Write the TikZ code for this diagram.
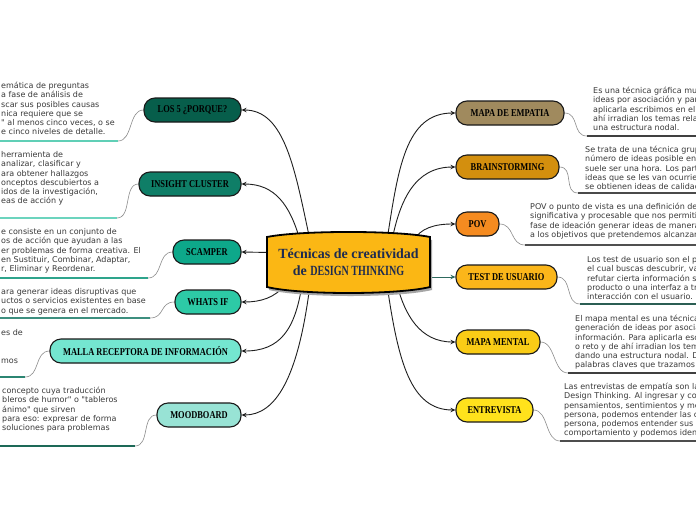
\documentclass[tikz,border=0pt]{standalone}
\usepackage{fontspec}
\usepackage{graphicx}
\setmainfont{DejaVu Sans}
\newfontfamily\descfont{DejaVu Sans}
\newfontfamily\lblfont[FakeStretch=0.8]{Liberation Serif}
\newfontfamily\ctrfont{Liberation Serif}
\usetikzlibrary{arrows.meta}
\pgfdeclarelayer{bg}
\pgfdeclarelayer{lines}
\pgfsetlayers{bg,lines,main}
\definecolor{cLos}{HTML}{075E4B}
\definecolor{cIns}{HTML}{0F7E67}
\definecolor{cSca}{HTML}{0DA88A}
\definecolor{cWha}{HTML}{2DCAA6}
\definecolor{cMal}{HTML}{74E6D0}
\definecolor{cMoo}{HTML}{98E3D5}
\definecolor{cEmp}{HTML}{A08A5E}
\definecolor{cBra}{HTML}{D38F0E}
\definecolor{cPov}{HTML}{F58B20}
\definecolor{cTes}{HTML}{FBB61A}
\definecolor{cMen}{HTML}{FACC16}
\definecolor{cEnt}{HTML}{FFE21C}
\definecolor{cCen}{HTML}{FBB714}
\definecolor{cNavy}{HTML}{1E2B50}
\definecolor{cTxt}{HTML}{3A3A3A}
\definecolor{cTeal}{HTML}{2E6A5E}
\definecolor{uLos}{HTML}{60CFB6}
\definecolor{uIns}{HTML}{6CD4BE}
\definecolor{uSca}{HTML}{2EA48C}
\definecolor{uWha}{HTML}{3D8F7F}
\definecolor{uMal}{HTML}{2B8572}
\definecolor{uMoo}{HTML}{1D6957}
\definecolor{uEmp}{HTML}{404040}
\definecolor{uBra}{HTML}{4A4A4A}
\definecolor{uPov}{HTML}{505050}
\definecolor{uTes}{HTML}{2B5E53}
\definecolor{uMen}{HTML}{3F3F3F}
\definecolor{uEnt}{HTML}{4D4D4D}
\begin{document}
\begin{tikzpicture}[x=1pt,y=-1pt,
  lbl/.style={rounded corners=11pt, draw=black!90, line width=1.1pt,
    minimum height=24pt, inner sep=0pt, text=black,
    font=\lblfont\bfseries\fontsize{10.5}{12}\selectfont},
  desc/.style={anchor=north west, inner sep=0pt, align=left, text=cTxt,
    font=\descfont\fontsize{8}{9.3}\selectfont},
  conn/.style={line width=0.9pt, draw=black!88, -{Stealth[length=5pt,width=4.5pt]}},
  dconn/.style={line width=0.6pt, draw=black!45},
  uline/.style={line width=2pt}
]
\useasboundingbox (0,0) rectangle (696,520);
\begin{pgfonlayer}{bg}
\fill[white] (0,0) rectangle (696,520);
\end{pgfonlayer}

% central topic
\fill[black!35] (269,240) .. controls (302,233.3) and (399,233.3) .. (432,240) -- (432,290) .. controls (399,298) and (302,298) .. (269,290) -- cycle;
\filldraw[fill=cCen, draw=black, line width=1.8pt] (267,237) .. controls (300,230.3) and (397,230.3) .. (430,237) -- (430,287) .. controls (397,295) and (300,295) .. (267,287) -- cycle;
\node[minimum width=163pt, minimum height=50pt, inner sep=0pt, align=center, text=cNavy,
  font=\ctrfont\bfseries\fontsize{14}{17}\selectfont] (c) at (348.5,262.5)
  {Técnicas de creatividad\\de \scalebox{0.72}[1]{DESIGN THINKING}};

% left topics
\node[lbl, fill=cLos, minimum width=97pt]  (los5)    at (192.5,110) {LOS 5 ¿PORQUE?};
\node[lbl, fill=cIns, minimum width=102pt] (insight) at (190,184)   {INSIGHT CLUSTER};
\node[lbl, fill=cSca, minimum width=68pt]  (scamper) at (207,252)   {SCAMPER};
\node[lbl, fill=cWha, minimum width=66pt]  (whatsif) at (208,302)   {WHATS IF};
\node[lbl, fill=cMal, minimum width=191pt] (malla)   at (145.5,351) {MALLA RECEPTORA DE INFORMACIÓN};
\node[lbl, fill=cMoo, minimum width=84pt]  (mood)    at (199,415)   {MOODBOARD};
% right topics
\node[lbl, fill=cEmp, minimum width=108pt] (empatia) at (510,113)   {MAPA DE EMPATIA};
\node[lbl, fill=cBra, minimum width=103pt] (brain)   at (507.5,167) {BRAINSTORMING};
\node[lbl, fill=cPov, minimum width=43pt]  (pov)     at (477.5,224) {POV};
\node[lbl, fill=cTes, minimum width=101pt] (test)    at (506.5,277) {TEST DE USUARIO};
\node[lbl, fill=cMen, minimum width=84pt]  (mental)  at (498,342)   {MAPA MENTAL};
\node[lbl, fill=cEnt, minimum width=77pt]  (entre)   at (494.5,410) {ENTREVISTA};

% connector start points on the central topic
\coordinate (s-los5)    at ([xshift=-38.5pt,yshift=-3pt]c.north);
\coordinate (s-insight) at ([xshift=-48.5pt,yshift=-3pt]c.north);
\coordinate (s-scamper) at ([xshift=4pt,yshift=10pt]c.west);
\coordinate (s-whatsif) at ([xshift=-63.5pt,yshift=3pt]c.south);
\coordinate (s-malla)   at ([xshift=-46.5pt,yshift=3pt]c.south);
\coordinate (s-mood)    at ([xshift=-38.5pt,yshift=3pt]c.south);
\coordinate (s-empatia) at ([xshift=38.5pt,yshift=-3pt]c.north);
\coordinate (s-brain)   at ([xshift=43.5pt,yshift=-3pt]c.north);
\coordinate (s-pov)     at ([xshift=64.5pt,yshift=-4pt]c.north);
\coordinate (s-test)    at ([xshift=-4pt,yshift=-14.5pt]c.east);
\coordinate (s-mental)  at ([xshift=48.5pt,yshift=3pt]c.south);
\coordinate (s-entre)   at ([xshift=38.5pt,yshift=3pt]c.south);

% underline end points
\coordinate (u-los5)    at (118,141);
\coordinate (u-insight) at (117,218);
\coordinate (u-scamper) at (148,278);
\coordinate (u-whatsif) at (150,318);
\coordinate (u-malla)   at (25,377);
\coordinate (u-mood)    at (135,446);
\coordinate (u-empatia) at (587,136);
\coordinate (u-brain)   at (578,193);
\coordinate (u-pov)     at (525,245);
\coordinate (u-test)    at (580,304);
\coordinate (u-mental)  at (568,373);
\coordinate (u-entre)   at (560,441);

\begin{pgfonlayer}{lines}
\draw[conn] (s-los5) .. controls (295,170) and (285,110) .. (los5.east);
\draw[conn] (s-insight) .. controls (290,205) and (275,184) .. (insight.east);
\draw[conn] (s-scamper) -- (scamper.east);
\draw[conn] (s-whatsif) .. controls (275,298) and (260,302) .. (whatsif.east);
\draw[conn] (s-malla) .. controls (295,330) and (280,351) .. (malla.east);
\draw[conn] (s-mood) .. controls (298,380) and (275,415) .. (mood.east);
\draw[conn] (s-empatia) .. controls (398,170) and (405,113) .. (empatia.west);
\draw[conn] (s-brain) .. controls (400,200) and (415,167) .. (brain.west);
\draw[conn] (s-pov) .. controls (420,228) and (435,224) .. (pov.west);
\draw[conn, draw=cTeal] (s-test) -- (test.west);
\draw[conn] (s-mental) .. controls (405,315) and (420,342) .. (mental.west);
\draw[conn] (s-entre) .. controls (398,360) and (410,410) .. (entre.west);

\draw[dconn] (los5.west) .. controls +(-15,0) and +(15,0) .. (u-los5);
\draw[dconn] (insight.west) .. controls +(-15,0) and +(15,0) .. (u-insight);
\draw[dconn] (scamper.west) .. controls +(-15,0) and +(15,0) .. (u-scamper);
\draw[dconn] (whatsif.west) .. controls +(-15,0) and +(15,0) .. (u-whatsif);
\draw[dconn] (malla.west) .. controls +(-15,0) and +(15,0) .. (u-malla);
\draw[dconn] (mood.west) .. controls +(-15,0) and +(15,0) .. (u-mood);
\draw[dconn] (empatia.east) .. controls +(15,0) and +(-15,0) .. (u-empatia);
\draw[dconn] (brain.east) .. controls +(15,0) and +(-15,0) .. (u-brain);
\draw[dconn] (pov.east) .. controls +(15,0) and +(-15,0) .. (u-pov);
\draw[dconn] (test.east) .. controls +(15,0) and +(-15,0) .. (u-test);
\draw[dconn] (mental.east) .. controls +(15,0) and +(-15,0) .. (u-mental);
\draw[dconn] (entre.east) .. controls +(15,0) and +(-15,0) .. (u-entre);

\draw[uline, draw=uLos] (u-los5) -- ++(-118,0);
\draw[uline, draw=uIns] (u-insight) -- ++(-117,0);
\draw[uline, draw=uSca] (u-scamper) -- ++(-148,0);
\draw[uline, draw=uWha] (u-whatsif) -- ++(-150,0);
\draw[uline, draw=uMal] (u-malla) -- ++(-25,0);
\draw[uline, draw=uMoo] (u-mood) -- ++(-135,0);
\draw[uline, draw=uEmp] (u-empatia) -- ++(120,0);
\draw[uline, draw=uBra] (u-brain) -- ++(120,0);
\draw[uline, draw=uPov] (u-pov) -- ++(180,0);
\draw[uline, draw=uTes] (u-test) -- ++(120,0);
\draw[uline, draw=uMen] (u-mental) -- ++(130,0);
\draw[uline, draw=uEnt] (u-entre) -- ++(140,0);
\end{pgfonlayer}

% descriptions (left, cut by the page edge)
\node[desc] (t-los5) at (1,81.7) {\strut emática de preguntas\\a fase de análisis de\\scar sus posibles causas\\nica requiere que se\\" al menos cinco veces, o se\\e cinco niveles de detalle.};
\node[desc] (t-insight) at (1,150.7) {\strut herramienta de\\analizar, clasificar y\\ara obtener hallazgos\\onceptos descubiertos a\\idos de la investigación,\\eas de acción y};
\node[desc] (t-scamper) at (1,227.7) {\strut e consiste en un conjunto de\\os de acción que ayudan a las\\er problemas de forma creativa. El\\en Sustituir, Combinar, Adaptar,\\r, Eliminar y Reordenar.};
\node[desc] (t-whatsif) at (1,287.7) {\strut ara generar ideas disruptivas que\\uctos o servicios existentes en base\\o que se genera en el mercado.};
\node[desc] (t-malla) at (1,328.7) {\strut es de\\\mbox{}\\\mbox{}\\mos};
\node[desc] (t-mood) at (2,386.7) {\strut concepto cuya traducción\\bleros de humor" o "tableros\\ánimo" que sirven\\para eso: expresar de forma\\soluciones para problemas};
% descriptions (right, cut by the page edge)
\node[desc] (t-empatia) at (593,86.7) {\strut Es una técnica gráfica mu\\ideas por asociación y par\\aplicarla escribimos en el\\ahí irradian los temas rela\\una estructura nodal.};
\node[desc] (t-brain) at (585,145.7) {\strut Se trata de una técnica grup\\número de ideas posible en\\suele ser una hora. Los part\\ideas que se les van ocurrie\\se obtienen ideas de calidad};
\node[desc] (t-pov) at (530,202.7) {\strut POV o punto de vista es una definición de\\significativa y procesable que nos permiti\\fase de ideación generar ideas de manera\\a los objetivos que pretendemos alcanzar};
\node[desc] (t-test) at (587,255.7) {\strut Los test de usuario son el p\\el cual buscas descubrir, va\\refutar cierta información s\\producto o una interfaz a tr\\interacción con el usuario.};
\node[desc] (t-mental) at (575,314.7) {\strut El mapa mental es una técnica\\generación de ideas por asocia\\información. Para aplicarla esc\\o reto y de ahí irradian los tem\\dando una estructura nodal. D\\palabras claves que trazamos};
\node[desc] (t-entre) at (564,382.7) {\strut Las entrevistas de empatía son la\\Design Thinking. Al ingresar y co\\pensamientos, sentimientos y me\\persona, podemos entender las c\\persona, podemos entender sus\\comportamiento y podemos iden};
\end{tikzpicture}
\end{document}
